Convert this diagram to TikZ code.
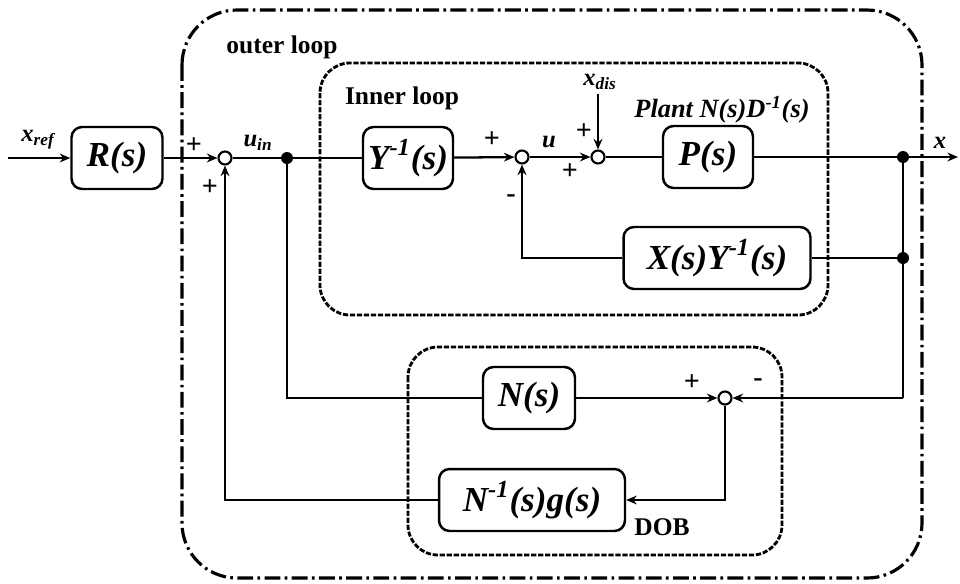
\documentclass[tikz,border=0pt]{standalone}
\usepackage{fontspec}
\setmainfont{Liberation Serif}
\usetikzlibrary{arrows.meta}
\tikzset{
  blockbox/.style={draw, line width=1.4pt, rounded corners=6pt, minimum height=1.24cm, inner sep=2pt, font=\fontsize{20}{22}\selectfont\bfseries\itshape},
  sumnode/.style={draw, circle, line width=1.2pt, minimum size=0.26cm, inner sep=0pt},
  dotnode/.style={fill, circle, minimum size=0.24cm, inner sep=0pt},
  sig/.style={-{Stealth[length=6pt,width=5pt]}, line width=1.3pt},
  wire/.style={line width=1.3pt},
  signlabel/.style={font=\fontsize{16}{16}\selectfont\bfseries},
  varlabel/.style={font=\fontsize{14}{14}\selectfont\bfseries\itshape},
  looplabel/.style={font=\fontsize{14.5}{14.5}\selectfont\bfseries},
  outerbox/.style={line width=1.8pt, rounded corners=1.1cm, dash pattern=on 9pt off 2.5pt on 1.5pt off 2.5pt},
  innerbox/.style={line width=1.6pt, rounded corners=0.6cm, dash pattern=on 3pt off 1pt},
}
\begin{document}
\begin{tikzpicture}[x=0.02cm,y=-0.02cm]
  \useasboundingbox (0,0) rectangle (960,583);
  \draw[outerbox] (182,10) rectangle (922,578);
  \draw[innerbox] (320,63) rectangle (828,315);
  \draw[innerbox] (408,347) rectangle (782,555);
  \node[looplabel] (outerlbl) at (282,47) {outer loop};
  \node[looplabel] (innerlbl) at (402,98) {Inner loop};
  \node[looplabel] (doblbl) at (662,527) {DOB};
  \node[varlabel, font=\fontsize{15}{15}\selectfont\bfseries\itshape] (plantlbl) at (722,110) {Plant N(s)D\textsuperscript{-1}(s)};

  \node[blockbox, minimum width=1.82cm] (R) at (117,158) {R(s)};
  \node[blockbox, minimum width=1.8cm] (Yinv) at (408,158) {Y\textsuperscript{-1}(s)};
  \node[blockbox, minimum width=1.8cm] (P) at (708,157) {P(s)};
  \node[blockbox, minimum width=3.74cm] (XY) at (717,258) {X(s)Y\textsuperscript{-1}(s)};
  \node[blockbox, minimum width=1.84cm] (N) at (529,398) {N(s)};
  \node[blockbox, minimum width=3.72cm] (Ng) at (532,500) {N\textsuperscript{-1}(s)g(s)};

  \node[sumnode] (sum1) at (225,158) {};
  \node[sumnode] (sum2) at (522,157) {};
  \node[sumnode] (sum3) at (598,157) {};
  \node[sumnode] (sum4) at (725,398) {};
  \node[dotnode] (j1) at (287,158) {};
  \node[dotnode] (j2) at (903,157) {};
  \node[dotnode] (j3) at (903,258) {};
  \coordinate (xin) at (8,158);
  \coordinate (xout) at (958,157);
  \coordinate (xdis) at (598,94);
  \coordinate (j4) at (903,398);

  \node[varlabel] (xreflbl) at (38,140) {x\textsubscript{ref}};
  \node[varlabel] (uinlbl) at (258,143) {u\textsubscript{in}};
  \node[varlabel] (ulbl) at (549,142) {u};
  \node[varlabel] (xdislbl) at (600,82) {x\textsubscript{dis}};
  \node[varlabel] (xlbl) at (940,143) {x};

  \node[signlabel] (s1a) at (194,146) {+};
  \node[signlabel] (s1b) at (210,188) {+};
  \node[signlabel] (s2a) at (492,140) {+};
  \node[signlabel] (s2b) at (511,199) {-};
  \node[signlabel] (s3a) at (584,132) {+};
  \node[signlabel] (s3b) at (570,172) {+};
  \node[signlabel] (s4a) at (692,383) {+};
  \node[signlabel] (s4b) at (758,383) {-};

  \draw[sig] (xin) -- (R);
  \draw[sig] (R) -- (sum1);
  \draw[wire] (sum1) -- (Yinv);
  \draw[sig] (Yinv) -- (sum2);
  \draw[sig] (sum2) -- (sum3);
  \draw[sig] (xdis) -- (sum3);
  \draw[wire] (sum3) -- (P);
  \draw[sig] (P) -- (xout);
  \draw[wire] (j2) -- (j4);
  \draw[wire] (j3) -- (XY);
  \draw[sig] (XY.west) -| (sum2.south);
  \draw[wire] (j1) |- (N.west);
  \draw[sig] (N) -- (sum4);
  \draw[sig] (j4) -- (sum4.east);
  \draw[sig] (sum4.south) |- (Ng.east);
  \draw[sig] (Ng.west) -| (sum1.south);
\end{tikzpicture}
\end{document}
